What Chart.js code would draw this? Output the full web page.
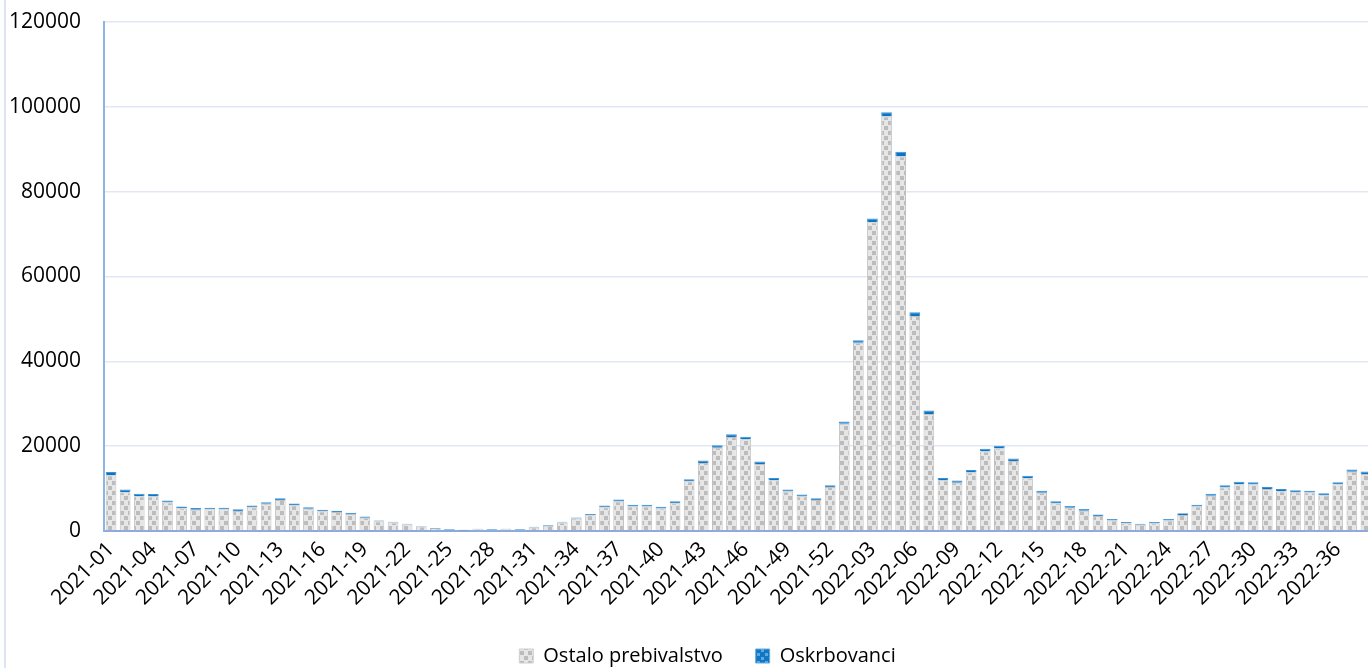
<!DOCTYPE html>
<html><head><meta charset="utf-8">
<script src="https://cdn.jsdelivr.net/npm/chart.js@4.4.1/dist/chart.umd.min.js"></script>
<style>
html,body{margin:0;padding:0;overflow:hidden;background:#fff;width:1368px;height:668px}
#wrap{position:absolute;left:0;top:0;width:1376px;height:668px}
#frame{position:absolute;left:4px;top:0;width:2px;height:668px;background:#dde4f3}
</style></head><body>
<div id="wrap"><canvas id="c" width="1376" height="668"></canvas></div>
<div id="frame"></div>
<script>
const weeks = [
'2021-01','2021-02','2021-03','2021-04','2021-05','2021-06','2021-07','2021-08','2021-09','2021-10',
'2021-11','2021-12','2021-13','2021-14','2021-15','2021-16','2021-17','2021-18','2021-19','2021-20',
'2021-21','2021-22','2021-23','2021-24','2021-25','2021-26','2021-27','2021-28','2021-29','2021-30',
'2021-31','2021-32','2021-33','2021-34','2021-35','2021-36','2021-37','2021-38','2021-39','2021-40',
'2021-41','2021-42','2021-43','2021-44','2021-45','2021-46','2021-47','2021-48','2021-49','2021-50',
'2021-51','2021-52','2022-01','2022-02','2022-03','2022-04','2022-05','2022-06','2022-07','2022-08',
'2022-09','2022-10','2022-11','2022-12','2022-13','2022-14','2022-15','2022-16','2022-17','2022-18',
'2022-19','2022-20','2022-21','2022-22','2022-23','2022-24','2022-25','2022-26','2022-27','2022-28',
'2022-29','2022-30','2022-31','2022-32','2022-33','2022-34','2022-35','2022-36','2022-37','2022-38'];

const ostaloPrebivalstvo = [
13150,9150,8200,8150,6700,5350,5000,5100,5100,4700,
5600,6400,7300,6100,5250,4650,4500,4000,3150,2300,
2000,1550,1050,550,200,100,400,250,400,250,
850,1250,2000,2950,3700,5600,6950,5800,5800,5300,
6550,11700,16050,19600,22150,21550,15800,11950,9300,8150,
7300,10350,25300,44400,72800,97700,88300,50700,27600,11900,
11350,13800,18750,19450,16500,12450,9000,6550,5500,4800,
3550,2500,1800,1450,1800,2450,3800,5750,8300,10250,
11050,10950,9900,9400,9100,9050,8450,11000,13950,13450];

const oskrbovanci = [
750,650,600,550,500,450,400,400,400,400,
400,400,400,400,350,350,300,300,250,200,
200,150,150,150,200,200,150,150,150,150,
150,150,200,250,300,400,450,400,400,400,
450,500,550,600,650,650,600,550,500,450,
400,450,500,600,900,1000,1100,900,800,600,
550,600,650,650,600,550,500,450,400,400,
350,300,300,250,300,350,400,450,500,550,
550,550,500,500,500,450,450,500,550,550];

const yTicks = [0,20000,40000,60000,80000,100000,120000];

function makePattern(bg, fg, w, h, squares){
  const c = document.createElement('canvas'); c.width = w; c.height = h;
  const x = c.getContext('2d');
  x.fillStyle = bg; x.fillRect(0,0,w,h);
  x.fillStyle = fg;
  squares.forEach(s => x.fillRect(s[0], s[1], s[2], s[2]));
  return document.getElementById('c').getContext('2d').createPattern(c, 'repeat');
}
const greyPat = makePattern('#e6e6e6', '#bcbcbc', 8, 10, [[0,1,4],[4,6,4]]);
const bluePat = makePattern('#1177c4', '#5fa8df', 8, 8, [[1,1,3],[5,5,3]]);

const FONT = "'Open Sans', 'Noto Sans', sans-serif";

const shiftLegend = {
  id: 'shiftLegend',
  afterLayout(chart){
    const lg = chart.legend;
    if (!lg) return;
    const dx = 16, dy = 8;
    lg.left += dx; lg.right += dx; lg.top += dy; lg.bottom += dy;
  }
};

new Chart(document.getElementById('c'), {
  type: 'bar',
  data: {
    labels: weeks,
    datasets: [
      { label: 'Ostalo prebivalstvo', data: ostaloPrebivalstvo, backgroundColor: greyPat,
        borderColor: '#c2c2c2', borderWidth: 1, barPercentage: 0.76, categoryPercentage: 1 },
      { label: 'Oskrbovanci', data: oskrbovanci, backgroundColor: '#0a74c2',
        borderColor: '#3d93d8', borderWidth: 1, barPercentage: 0.76, categoryPercentage: 1 }
    ]
  },
  options: {
    responsive: false,
    animation: false,
    layout: { padding: { left: 10, right: 3, top: 22, bottom: 0 } },
    plugins: {
      tooltip: { enabled: false },
      legend: {
        position: 'bottom',
        labels: {
          color: '#000',
          font: { family: FONT, size: 20 },
          boxWidth: 14, boxHeight: 14, padding: 33,
          generateLabels(chart){
            const items = Chart.defaults.plugins.legend.labels.generateLabels(chart);
            items[0].fillStyle = greyPat; items[0].strokeStyle = '#d0d0d0'; items[0].lineWidth = 1;
            items[1].fillStyle = bluePat; items[1].strokeStyle = '#64ace2'; items[1].lineWidth = 1;
            return items;
          }
        }
      }
    },
    scales: {
      x: {
        stacked: true,
        grid: { display: false, drawTicks: false },
        border: { display: true, color: '#8eaadb', width: 2 },
        afterFit(axis){ axis.height = 74; axis.paddingRight = 0; },
        ticks: {
          autoSkip: false, maxRotation: 45, minRotation: 45, padding: 6,
          color: '#000', font: { family: FONT, size: 21 },
          callback(v, i){ return i % 3 === 0 ? weeks[i] : ''; }
        }
      },
      y: {
        stacked: true, min: 0, max: 120000,
        afterFit(axis){ axis.width = 94; axis.paddingTop = 0; axis.paddingBottom = 0; },
        afterBuildTicks(axis){ axis.ticks = yTicks.map(v => ({ value: v })); },
        grid: { color: '#e2e7f4', lineWidth: 1.5, drawTicks: false },
        border: { display: true, color: '#8eb4e3', width: 2 },
        ticks: { padding: 23, color: '#000', font: { family: FONT, size: 21 },
          callback(v){ return String(v); } }
      }
    }
  },
  plugins: [shiftLegend]
});
</script>
</body></html>
